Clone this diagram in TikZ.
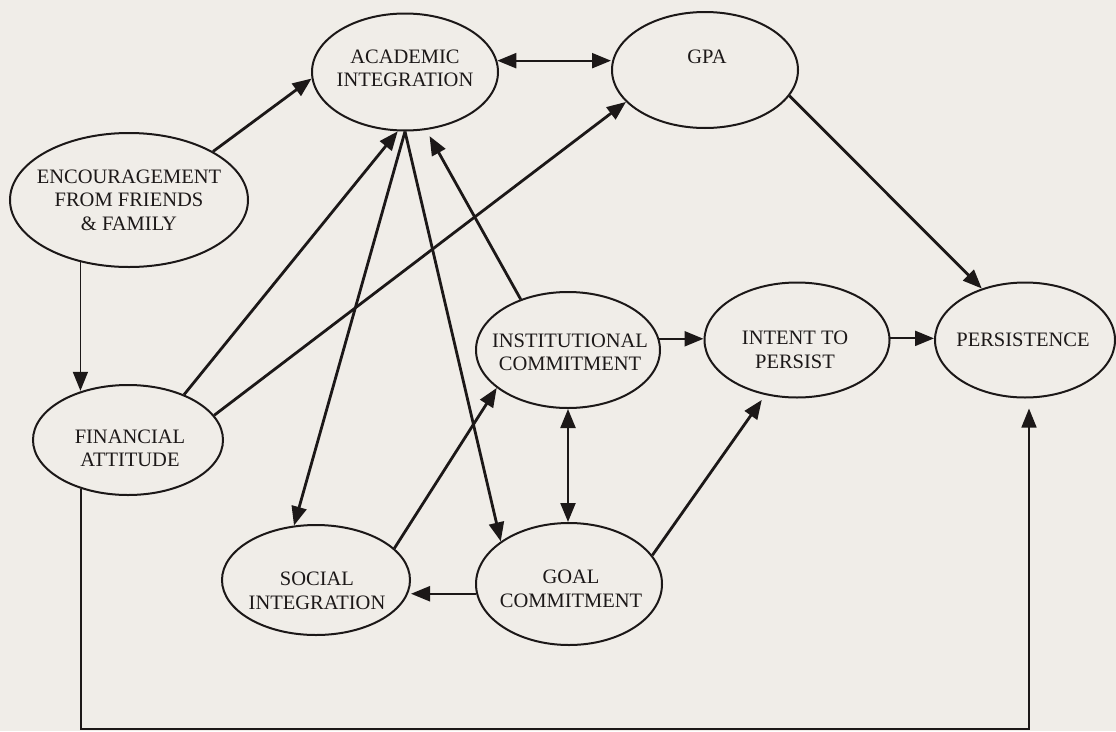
\documentclass[tikz,border=0pt]{standalone}
\usepackage{fontspec}
\setmainfont{Liberation Serif}
\usetikzlibrary{shapes.geometric,arrows.meta}
\definecolor{paper}{RGB}{240,237,232}
\definecolor{ink}{RGB}{28,24,24}
\tikzset{
  ell/.style={draw=ink, line width=2pt, ellipse, inner sep=0pt},
  txt/.style={font=\fontsize{20.5}{23.5}\selectfont, align=center, inner sep=0pt, text=ink},
  onetip/.style={-{Triangle[length=19pt,width=15pt]}},
  twotips/.style={{Triangle[length=19pt,width=15pt]}-{Triangle[length=19pt,width=15pt]}},
  arr/.style={draw=ink, line width=2.8pt, onetip},
  harr/.style={draw=ink, line width=2.2pt, onetip},
  thinarr/.style={draw=ink, line width=1.6pt, onetip},
}
\begin{document}
\begin{tikzpicture}[x=1pt,y=-1pt]
\fill[paper] (0,0) rectangle (1116,731);
\useasboundingbox (0,0) rectangle (1116,731);

% ellipses
\node[ell, minimum width=186pt, minimum height=117pt] (acad) at (405,72) {};
\node[ell, minimum width=186pt, minimum height=116pt] (gpa) at (705,70) {};
\node[ell, minimum width=238pt, minimum height=134pt] (enc) at (129,200) {};
\node[ell, minimum width=190pt, minimum height=110pt] (fin) at (128,440) {};
\node[ell, minimum width=184pt, minimum height=116pt] (inst) at (568,350) {};
\node[ell, minimum width=185pt, minimum height=115pt] (intent) at (797,340) {};
\node[ell, minimum width=180pt, minimum height=115pt] (pers) at (1025,340) {};
\node[ell, minimum width=188pt, minimum height=110pt] (soc) at (316,580) {};
\node[ell, minimum width=186pt, minimum height=122pt] (goal) at (569,584) {};

% texts
\node[txt] (acad-t) at (405,68.5) {ACADEMIC\\INTEGRATION};
\node[txt] (gpa-t) at (707,56.5) {GPA};
\node[txt] (enc-t) at (129,200) {ENCOURAGEMENT\\FROM FRIENDS\\\& FAMILY};
\node[txt] (fin-t) at (130,448.5) {FINANCIAL\\ATTITUDE};
\node[txt] (inst-t) at (570,352.5) {INSTITUTIONAL\\COMMITMENT};
\node[txt] (intent-t) at (795,350) {INTENT TO\\PERSIST};
\node[txt] (pers-t) at (1023,339.5) {PERSISTENCE};
\node[txt] (soc-t) at (317,591) {SOCIAL\\INTEGRATION};
\node[txt] (goal-t) at (571,589) {GOAL\\COMMITMENT};

\coordinate (br) at (1029,729);

% connectors
\draw[arr] (enc.30.3) -- (acad.184.8);
\draw[thinarr] (enc.232.6) -- (enc.232.6 |- fin.133.7);
\draw[arr] (fin.39.2) -- (acad.263.1);
\draw[arr] (fin.16.4) -- (gpa.202.9);
\draw[arr] (acad.270) -- (soc.112);
\draw[arr] (acad.270) -- (goal.148.5);
\draw[arr, shorten >=7pt] (inst.133.8) -- (acad.290.4);
\draw[arr] (soc.22.7) -- (inst.208.8);
\draw[harr] (goal.186.9) -- (goal.186.9 -| soc.east);
\draw[harr] (inst.7.6) -- (inst.7.6 -| intent.west);
\draw[harr] (intent.1.9) -- (intent.1.9 -| pers.west);
\draw[arr] (gpa.343.2) -- (pers.130.9);
\draw[draw=ink, line width=2.2pt, twotips] (acad.7.5) -- (acad.7.5 -| gpa.west);
\draw[draw=ink, line width=2.2pt, twotips] (inst.south) -- (inst.south |- goal.north);
\draw[arr, shorten >=6pt] (goal.19.05) -- (intent.240.6);
\draw[thinarr, shorten >=10pt] (fin.226.3) -- (fin.226.3 |- br) -- (br) -- (br |- pers.south);
\end{tikzpicture}
\end{document}
